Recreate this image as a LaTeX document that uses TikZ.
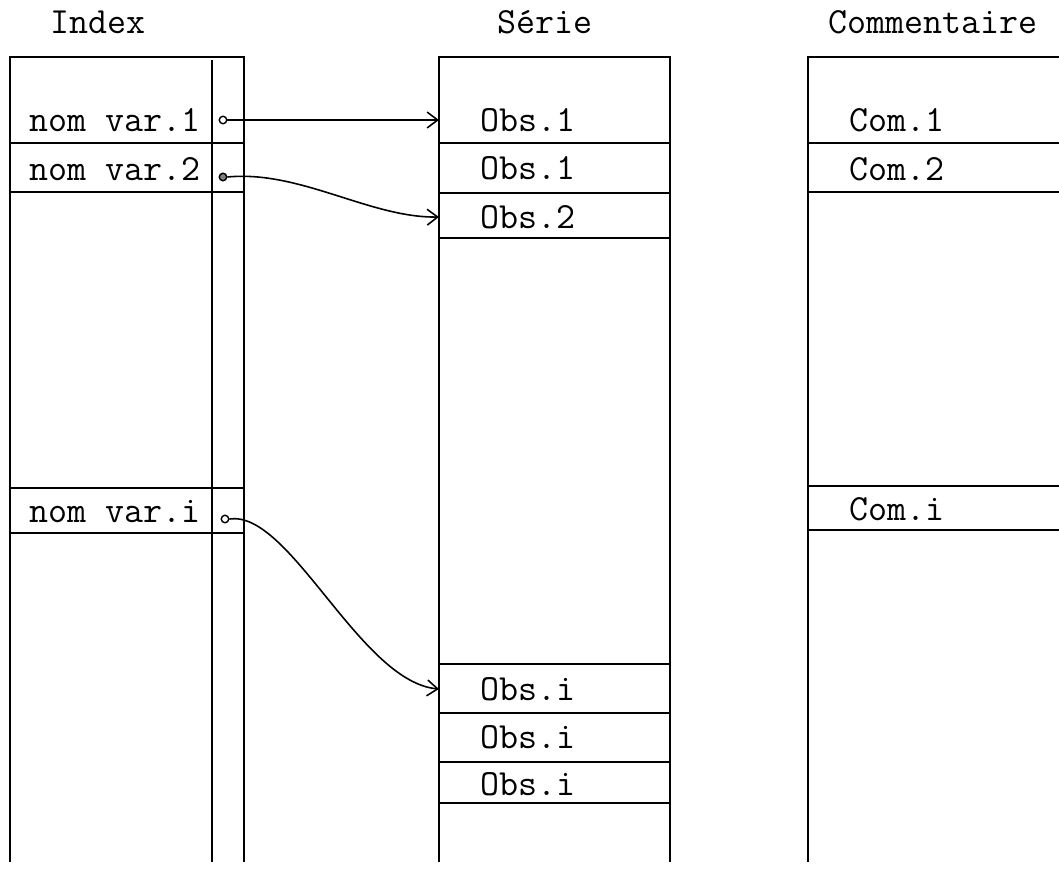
\documentclass[tikz,border=0pt]{standalone}
\usetikzlibrary{arrows.meta}

\begin{document}
\begin{tikzpicture}[x=0.02cm,y=-0.02cm,
  txt/.style={anchor=west,inner sep=0pt,font=\ttfamily\fontsize{21}{24}\selectfont},
  col/.style={line width=1.3pt},
  sep/.style={line width=1pt},
  ptr/.style={circle,draw,inner sep=0pt,minimum size=0.15cm,line width=0.8pt},
  arr/.style={-{Straight Barb[length=6pt,width=9pt]},line width=0.9pt}]
\useasboundingbox (0,0) rectangle (1059,869);
% titles
\node[txt] (tindex) at (50,22)  {Index};
\node[txt] (tserie) at (497,22) {Série};
\node[txt] (tcomm)  at (828,22) {Commentaire};
% columns
\draw[col] (10,862) -- (10,57) -- (244,57) -- (244,862);
\draw[col] (212,60) -- (212,862);
\draw[col] (439,862) -- (439,57) -- (670,57) -- (670,862);
\draw[col] (808,862) -- (808,57) -- (1059,57);
\coordinate (sl) at (439,0);
% index rows
\draw[sep] (10,143) -- (244,143);
\draw[sep] (10,192) -- (244,192);
\draw[sep] (10,488) -- (244,488);
\draw[sep] (10,533) -- (244,533);
\node[txt] (v1) at (29,120) {nom var.1};
\node[txt] (v2) at (29,169) {nom var.2};
\node[txt] (vi) at (29,512) {nom var.i};
\node[ptr] (p1) at (223,120) {};
\node[ptr,fill=gray] (p2) at (223,177) {};
\node[ptr] (pi) at (225,519) {};
% serie rows
\draw[sep] (439,143) -- (670,143);
\draw[sep] (439,193) -- (670,193);
\draw[sep] (439,238) -- (670,238);
\draw[sep] (439,664) -- (670,664);
\draw[sep] (439,713) -- (670,713);
\draw[sep] (439,762) -- (670,762);
\draw[sep] (439,803) -- (670,803);
\node[txt] (s1) at (480,120) {Obs.1};
\node[txt] (s2) at (480,168) {Obs.1};
\node[txt] (s3) at (480,217) {Obs.2};
\node[txt] (si1) at (480,689) {Obs.i};
\node[txt] (si2) at (480,737) {Obs.i};
\node[txt] (si3) at (480,784) {Obs.i};
% commentaire rows
\draw[sep] (808,143) -- (1059,143);
\draw[sep] (808,192) -- (1059,192);
\draw[sep] (808,486) -- (1059,486);
\draw[sep] (808,530) -- (1059,530);
\node[txt] (c1) at (849,120) {Com.1};
\node[txt] (c2) at (849,169) {Com.2};
\node[txt] (ci) at (849,509) {Com.i};
% pointers
\draw[arr] (p1) -- (s1 -| sl);
\draw[arr] (p2.east) .. controls (300,170) and (370,218) .. (s3 -| sl);
\draw[arr] (pi.east) .. controls (290,510) and (360,682) .. (si1 -| sl);
\end{tikzpicture}
\end{document}
